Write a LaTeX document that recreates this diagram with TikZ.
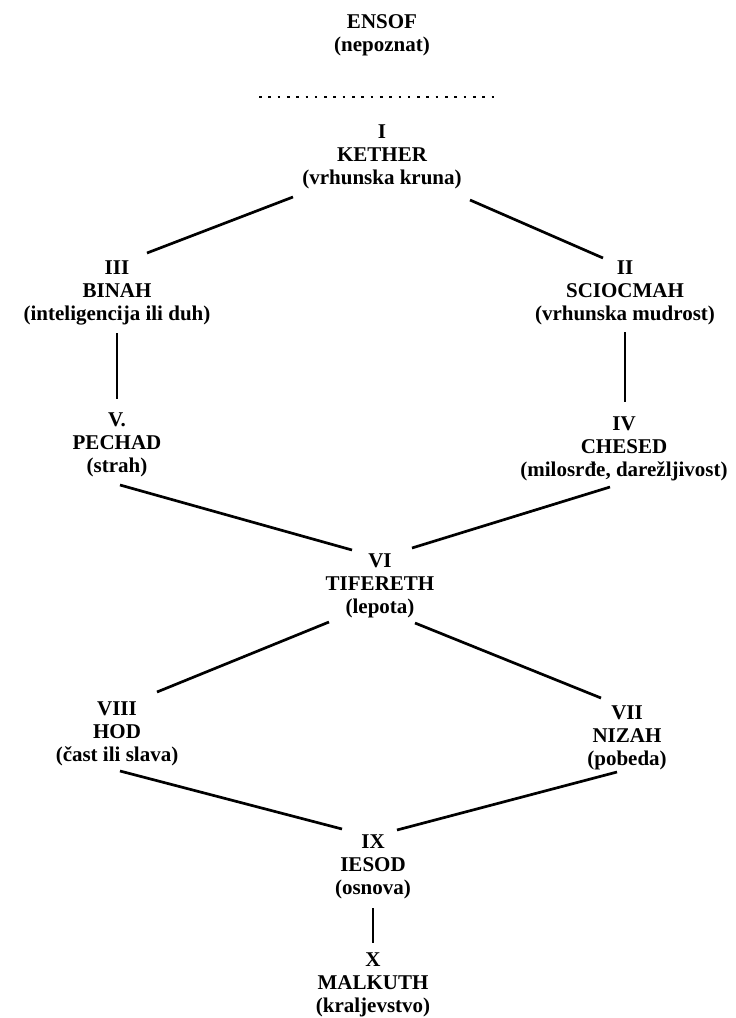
\documentclass[tikz,border=0pt]{standalone}
\usepackage{fontspec}
\setmainfont{Liberation Serif}
\begin{document}
\begin{tikzpicture}[x=1pt,y=-1pt,
  sef/.style={align=center, inner sep=0pt, font=\fontsize{21}{23}\selectfont\bfseries},
  conn/.style={line width=2.7pt},
  dots/.style={line width=2.6pt, dash pattern=on 2.6pt off 6.7pt}]
\useasboundingbox[fill=white] (0,0) rectangle (736,1018);
% nodes
\node[sef] (ensof)    at (382,35)  {ENSOF\\(nepoznat)};
\node[sef] (kether)   at (382,157) {I\\KETHER\\(vrhunska kruna)};
\node[sef] (binah)    at (117,293) {III\\BINAH\\(inteligencija ili duh)};
\node[sef] (sciocmah) at (625,293) {II\\SCIOCMAH\\(vrhunska mudrost)};
\node[sef] (pechad)   at (117,445) {V.\\PECHAD\\(strah)};
\node[sef] (chesed)   at (624,449) {IV\\CHESED\\(milosrđe, darežljivost)};
\node[sef] (tifereth) at (380,586) {VI\\TIFERETH\\(lepota)};
\node[sef] (hod)      at (117,734) {VIII\\HOD\\(čast ili slava)};
\node[sef] (nizah)    at (627,738) {VII\\NIZAH\\(pobeda)};
\node[sef] (iesod)    at (373,867) {IX\\IESOD\\(osnova)};
\node[sef] (malkuth)  at (373,985) {X\\MALKUTH\\(kraljevstvo)};
% dotted separator
\coordinate (dotL) at (259,97);
\coordinate (dotR) at (500,97);
\draw[dots] (dotL) -- (dotR);
% connectors
\draw[conn] ([shift={(-89,40)}]kether.center) -- ([shift={(30,-40)}]binah.center);
\draw[conn] ([shift={(88,43)}]kether.center) -- ([shift={(-22,-35)}]sciocmah.center);
\draw[conn] ([shift={(0,40)}]binah.center) -- ([shift={(0,-46)}]pechad.center);
\draw[conn] ([shift={(0,39)}]sciocmah.center) -- ([shift={(1,-47)}]chesed.center);
\draw[conn] ([shift={(3,40)}]pechad.center) -- ([shift={(-28,-36)}]tifereth.center);
\draw[conn] ([shift={(-14,38)}]chesed.center) -- ([shift={(32,-38)}]tifereth.center);
\draw[conn] ([shift={(-51,36)}]tifereth.center) -- ([shift={(40,-42)}]hod.center);
\draw[conn] ([shift={(35,37)}]tifereth.center) -- ([shift={(-26,-40)}]nizah.center);
\draw[conn] ([shift={(3,37)}]hod.center) -- ([shift={(-31,-38)}]iesod.center);
\draw[conn] ([shift={(-10,34)}]nizah.center) -- ([shift={(24,-37)}]iesod.center);
\draw[conn] ([shift={(0,41)}]iesod.center) -- ([shift={(0,-42)}]malkuth.center);
\end{tikzpicture}
\end{document}
